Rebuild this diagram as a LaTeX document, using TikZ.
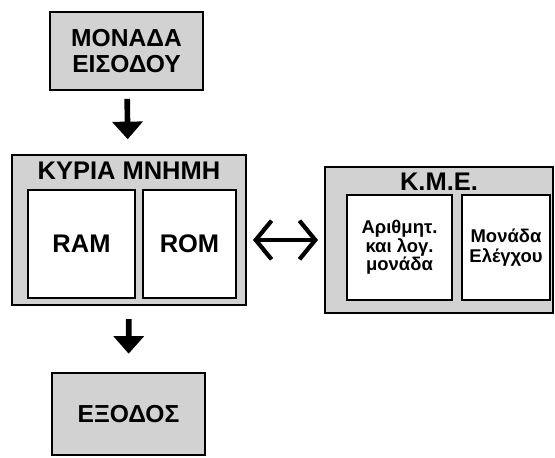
\documentclass[tikz,border=0pt]{standalone}
\usepackage{fontspec}
\setmainfont{Liberation Sans}
\usetikzlibrary{arrows.meta}
\tikzset{
  unit/.style={draw, line width=1.2pt, fill=gray!35, inner sep=0pt, outer sep=0pt,
               align=center, font=\bfseries\fontsize{14}{14.5}\selectfont},
  part/.style={draw, line width=1.2pt, fill=white, inner sep=0pt, outer sep=0pt,
               align=center},
  title/.style={inner sep=0pt, font=\bfseries\fontsize{14.5}{15}\selectfont},
  flow/.style={line width=3.2pt, -{Triangle[length=10pt,width=17pt]}},
  link/.style={line width=2.4pt, {Straight Barb[length=9pt,width=22pt]}-{Straight Barb[length=9pt,width=22pt]}},
}

\begin{document}
\begin{tikzpicture}[x=0.02cm, y=-0.02cm]
    \useasboundingbox (0,0) rectangle (555,457);
    \node[unit, minimum width=3.06cm, minimum height=1.56cm] (in)  at (126.5,51)  {ΜΟΝΑΔΑ\\ΕΙΣΟΔΟΥ};
    \node[unit, minimum width=4.68cm, minimum height=3.0cm]  (mem) at (129,230)   {};
    \node[title]                                             (memt) at (129,171)  {ΚΥΡΙΑ ΜΝΗΜΗ};
    \node[part, minimum width=2.14cm, minimum height=2.16cm,
          font=\bfseries\fontsize{14.5}{15}\selectfont]     (ram) at (81.5,244)  {RAM};
    \node[part, minimum width=1.86cm, minimum height=2.16cm,
          font=\bfseries\fontsize{14.5}{15}\selectfont]     (rom) at (189.5,244) {ROM};
    \node[unit, minimum width=4.56cm, minimum height=2.92cm] (cpu) at (439,240)   {};
    \node[title]                                             (cput) at (439,182)  {Κ.Μ.Ε.};
    \node[part, minimum width=2.1cm, minimum height=2.1cm,
          font=\bfseries\fontsize{10.5}{10.5}\selectfont]   (alu) at (399.5,247.5) {Αριθμητ.\\και λογ.\\μονάδα};
    \node[part, minimum width=1.76cm, minimum height=2.1cm,
          font=\bfseries\fontsize{10.5}{11}\selectfont]     (cu)  at (506,247.5)  {Μονάδα\\Ελέγχου};
    \node[unit, minimum width=3.06cm, minimum height=1.64cm] (out) at (128.5,414) {ΕΞΟΔΟΣ};
    \draw[flow, shorten <=5pt, shorten >=9pt] (in) -- (mem);
    \draw[flow, shorten <=8pt, shorten >=11pt] (mem) -- (out);
    \draw[link, shorten <=4pt, shorten >=4pt] (mem.east |- cpu.west) -- (cpu.west);
\end{tikzpicture}
\end{document}
